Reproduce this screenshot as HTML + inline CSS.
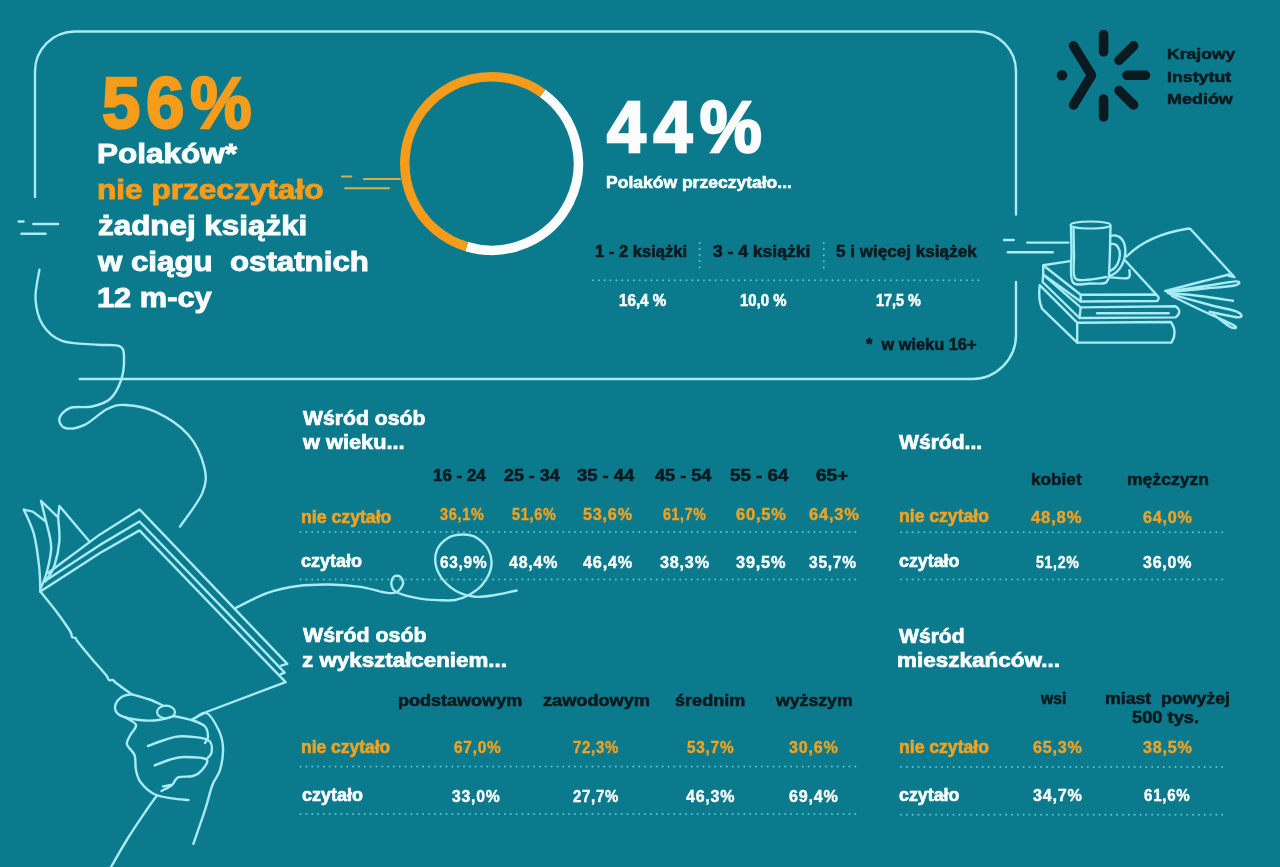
<!DOCTYPE html>
<html><head><meta charset="utf-8"><style>
html,body{margin:0;padding:0;}
body{width:1280px;height:867px;background:#0c7a8d;position:relative;overflow:hidden;font-family:"Liberation Sans",sans-serif;}
.t{position:absolute;white-space:nowrap;font-weight:bold;line-height:1;transform-origin:0 0;}
svg{position:absolute;left:0;top:0;}
#wrap{position:absolute;left:0;top:0;width:1280px;height:867px;filter:blur(0.45px);}
</style></head><body>
<div id="wrap">
<svg width="1280" height="867" viewBox="0 0 1280 867"><path d="M35,197 L35,71.5 A40,40 0 0 1 75,31.5 L976,31.5 A40,40 0 0 1 1016,71.5 L1016,214.6" fill="none" stroke="#a8ebf4" stroke-width="2.4" stroke-linecap="round" stroke-linejoin="round" />
<path d="M1016,282 L1016,335 A44,44 0 0 1 972,379 L79.8,379" fill="none" stroke="#a8ebf4" stroke-width="2.4" stroke-linecap="round" stroke-linejoin="round" />
<path d="M18.7,221.5 L23.5,221.5" fill="none" stroke="#a8ebf4" stroke-width="2.4" stroke-linecap="round" stroke-linejoin="round" />
<path d="M33.2,224 L58.1,224" fill="none" stroke="#a8ebf4" stroke-width="2.4" stroke-linecap="round" stroke-linejoin="round" />
<path d="M21.4,233.7 L45.6,233.7" fill="none" stroke="#a8ebf4" stroke-width="2.4" stroke-linecap="round" stroke-linejoin="round" />
<path d="M1004,240 L1013.7,240" fill="none" stroke="#a8ebf4" stroke-width="2.4" stroke-linecap="round" stroke-linejoin="round" />
<path d="M1027.3,242.6 L1068.4,242.6" fill="none" stroke="#a8ebf4" stroke-width="2.4" stroke-linecap="round" stroke-linejoin="round" />
<path d="M1007.8,252.2 L1052.7,252.2" fill="none" stroke="#a8ebf4" stroke-width="2.4" stroke-linecap="round" stroke-linejoin="round" />
<path d="M39.4,269.7 C38.8,274.6 35.0,289.6 35.5,298.8 C36.0,308.0 38.2,317.6 42.6,324.6 C47.0,331.6 52.9,337.5 62.0,340.8 C71.2,344.1 87.8,343.8 97.5,344.7 C107.2,345.6 115.8,343.9 120.2,346.5 C124.6,349.1 123.9,354.2 124.0,360.0 C124.1,365.8 123.1,374.5 120.8,381.0 C118.5,387.5 114.8,394.8 110.0,399.0 C105.2,403.2 98.7,405.0 92.0,406.5 C85.3,408.0 75.4,406.0 70.0,408.0 C64.6,410.0 60.2,415.0 59.4,418.3 C58.6,421.6 61.0,426.9 65.2,428.0 C69.4,429.1 77.6,428.0 84.6,424.8 C91.6,421.6 100.5,412.3 107.2,409.0 C113.9,405.7 116.9,404.5 125.0,405.0 C133.1,405.5 145.2,407.0 155.7,411.9 C166.2,416.8 179.9,425.4 188.0,434.5 C196.1,443.6 201.8,457.1 204.2,466.8 C206.6,476.5 206.5,482.6 202.5,492.6 C198.5,502.6 183.8,520.9 180.0,526.6" fill="none" stroke="#a8ebf4" stroke-width="2.4" stroke-linecap="round" stroke-linejoin="round" />
<path d="M235.6,608.0 C240.8,605.5 256.5,596.8 266.9,593.1 C277.3,589.4 287.6,587.4 298.0,586.0 C308.4,584.6 319.0,584.4 329.4,584.5 C339.8,584.6 351.5,585.6 360.6,586.9 C369.7,588.2 378.1,591.4 384.0,592.3 C389.9,593.2 392.8,593.9 396.0,592.5 C399.2,591.1 402.3,586.7 403.0,584.0 C403.7,581.3 401.6,577.7 400.0,576.5 C398.4,575.3 394.9,575.6 393.5,577.0 C392.1,578.4 390.9,582.4 391.5,585.0 C392.1,587.6 392.2,590.2 397.0,592.5 C401.8,594.8 412.8,597.3 420.0,598.6 C427.2,599.9 434.2,600.0 440.0,600.2 C445.8,600.4 450.3,600.8 455.0,600.0 C459.7,599.2 463.5,598.0 468.0,595.5 C472.5,593.0 478.2,589.6 482.0,585.0 C485.8,580.4 489.8,573.7 491.0,568.0 C492.2,562.3 491.3,556.0 489.0,551.0 C486.7,546.0 481.3,540.8 477.0,538.0 C472.7,535.2 467.8,534.5 463.0,534.5 C458.2,534.5 452.3,535.4 448.0,538.0 C443.7,540.6 439.0,545.3 437.0,550.0 C435.0,554.7 434.8,560.8 436.0,566.0 C437.2,571.2 440.3,576.7 444.0,581.0 C447.7,585.3 452.8,589.4 458.0,592.0 C463.2,594.6 468.8,596.3 475.0,596.8 C481.2,597.3 488.1,596.0 495.0,595.0 C501.9,594.0 513.0,591.2 516.6,590.5" fill="none" stroke="#a8ebf4" stroke-width="2.4" stroke-linecap="round" stroke-linejoin="round" />
<path d="M542.62,93.28 A86.8,86.8 0 0 1 466.66,246.64" fill="none" stroke="#fbfdfc" stroke-width="9.5"/>
<path d="M466.66,246.64 A86.8,86.8 0 1 1 542.62,93.28" fill="none" stroke="#f59c1a" stroke-width="9.5"/>
<path d="M342,176.6 L351.4,176.6" fill="none" stroke="#d4b04e" stroke-width="2" stroke-linecap="round" stroke-linejoin="round" />
<path d="M364,178.9 L400,178.9" fill="none" stroke="#d4b04e" stroke-width="2" stroke-linecap="round" stroke-linejoin="round" />
<path d="M345,188.3 L389,188.3" fill="none" stroke="#d4b04e" stroke-width="2" stroke-linecap="round" stroke-linejoin="round" />
<g stroke="#0b1a20" stroke-width="9.5" stroke-linecap="round" fill="none"><path d="M1073.5,45.8 L1091.6,75.3 L1073.5,105" stroke-linejoin="round"/><path d="M1103.6,34.5 L1103.6,52"/><path d="M1103.6,99 L1103.6,117"/><path d="M1119,60.4 L1133.7,45.8"/><path d="M1127,75.3 L1145.5,75.3"/><path d="M1119,90.5 L1133.7,105"/></g><circle cx="1062" cy="75.3" r="5.3" fill="#0b1a20"/>
<line x1="593" y1="280.2" x2="980" y2="280.2" stroke="#5cc3d2" stroke-width="2" stroke-dasharray="0.01 5.83" stroke-linecap="round"/>
<line x1="699.7" y1="243" x2="699.7" y2="268" stroke="#5cc3d2" stroke-width="2" stroke-dasharray="0.01 6.1" stroke-linecap="round"/>
<line x1="823.8" y1="243" x2="823.8" y2="268" stroke="#5cc3d2" stroke-width="2" stroke-dasharray="0.01 6.1" stroke-linecap="round"/>
<line x1="300.5" y1="532" x2="858" y2="532" stroke="#5cc3d2" stroke-width="2" stroke-dasharray="0.01 5.83" stroke-linecap="round"/>
<line x1="300.5" y1="579.5" x2="858" y2="579.5" stroke="#5cc3d2" stroke-width="2" stroke-dasharray="0.01 5.83" stroke-linecap="round"/>
<line x1="901" y1="532.3" x2="1227" y2="532.3" stroke="#5cc3d2" stroke-width="2" stroke-dasharray="0.01 5.83" stroke-linecap="round"/>
<line x1="901" y1="579.6" x2="1227" y2="579.6" stroke="#5cc3d2" stroke-width="2" stroke-dasharray="0.01 5.83" stroke-linecap="round"/>
<line x1="300.5" y1="766.5" x2="858" y2="766.5" stroke="#5cc3d2" stroke-width="2" stroke-dasharray="0.01 5.83" stroke-linecap="round"/>
<line x1="300.5" y1="814" x2="858" y2="814" stroke="#5cc3d2" stroke-width="2" stroke-dasharray="0.01 5.83" stroke-linecap="round"/>
<line x1="901" y1="766.9" x2="1227" y2="766.9" stroke="#5cc3d2" stroke-width="2" stroke-dasharray="0.01 5.83" stroke-linecap="round"/>
<line x1="901" y1="814.7" x2="1227" y2="814.7" stroke="#5cc3d2" stroke-width="2" stroke-dasharray="0.01 5.83" stroke-linecap="round"/>
<path d="M40.4,591.5 L100.0,553.0 L139.5,530.4 L285.6,682.1 L207.7,711.5 L192.1,719.3" fill="none" stroke="#a8ebf4" stroke-width="2.4" stroke-linecap="round" stroke-linejoin="round" />
<path d="M44.2,581.4 L100.0,544.9 L139.5,521.5 L284.7,672.6 L280.4,674.3" fill="none" stroke="#a8ebf4" stroke-width="2.4" stroke-linecap="round" stroke-linejoin="round" />
<path d="M48.0,573.0 L100.0,534.4 L139.5,509.4 L287.3,663.9 L281.2,665.7" fill="none" stroke="#a8ebf4" stroke-width="2.4" stroke-linecap="round" stroke-linejoin="round" />
<path d="M40.4,591.5 C43.0,594.8 51.1,604.4 56.0,611.0 C60.9,617.6 67.3,626.7 70.0,631.0 C72.7,635.3 71.1,635.8 72.0,637.0 C72.9,638.2 74.5,637.2 75.5,638.0 C76.5,638.8 75.2,638.5 78.0,642.0 C80.8,645.5 87.3,653.5 92.0,659.0 C96.7,664.5 103.2,671.5 106.0,675.0 C108.8,678.5 107.8,679.2 109.0,680.0 C110.2,680.8 111.8,679.5 113.0,680.0 C114.2,680.5 112.9,680.6 116.0,683.0 C119.1,685.4 128.9,692.3 131.5,694.2" fill="none" stroke="#a8ebf4" stroke-width="2.4" stroke-linecap="round" stroke-linejoin="round" />
<path d="M40.4,591.5 C40.2,587.3 40.2,575.6 39.1,566.1 C38.0,556.6 36.5,543.8 34.0,534.4 C31.5,525.0 25.6,513.8 23.9,509.7" fill="none" stroke="#a8ebf4" stroke-width="2.4" stroke-linecap="round" stroke-linejoin="round" />
<path d="M23.9,509.7 L32.8,511.6 L46.1,521.7 L41.0,500.8 L58.1,517.3 L59.4,505.9 L89.9,542.0" fill="none" stroke="#a8ebf4" stroke-width="2.4" stroke-linecap="round" stroke-linejoin="round" />
<path d="M46.1,521.7 C47.0,525.9 51.1,538.5 51.2,547.0 C51.3,555.5 48.5,565.5 46.7,572.5 C44.9,579.5 41.5,586.2 40.4,589.0" fill="none" stroke="#a8ebf4" stroke-width="2.4" stroke-linecap="round" stroke-linejoin="round" />
<path d="M58.1,517.3 C58.3,521.2 60.0,532.7 59.4,540.8 C58.8,548.9 56.6,559.2 54.3,566.0 C52.0,572.8 47.0,578.8 45.5,581.4" fill="none" stroke="#a8ebf4" stroke-width="2.4" stroke-linecap="round" stroke-linejoin="round" />
<path d="M131.5,694.2 C130.0,694.6 125.1,694.9 122.5,696.5 C119.9,698.1 116.7,701.4 115.7,704.0 C114.7,706.6 114.9,710.0 116.5,712.2 C118.1,714.5 120.8,716.1 125.5,717.5 C130.2,718.9 139.2,720.1 145.0,720.5 C150.8,720.9 155.1,720.5 160.0,719.7 C164.9,719.0 171.8,716.6 174.2,716.0" fill="none" stroke="#a8ebf4" stroke-width="2.4" stroke-linecap="round" stroke-linejoin="round" />
<path d="M131.5,694.2 C134.5,695.1 144.2,697.6 149.5,699.5 C154.8,701.4 160.8,704.5 163.0,705.5" fill="none" stroke="#a8ebf4" stroke-width="2.4" stroke-linecap="round" stroke-linejoin="round" />
<ellipse cx="166" cy="712" rx="9" ry="6.3" fill="none" stroke="#a8ebf4" stroke-width="2.2"/>
<path d="M174.2,716.0 C177.3,716.8 187.9,718.8 193.0,720.5 C198.1,722.2 202.5,723.8 205.0,726.5 C207.5,729.2 208.0,734.2 208.0,737.0 C208.0,739.8 205.5,742.0 205.0,743.0" fill="none" stroke="#a8ebf4" stroke-width="2.4" stroke-linecap="round" stroke-linejoin="round" />
<path d="M125.5,717.5 C127.2,718.8 135.2,722.0 136.0,725.0 C136.8,728.0 131.5,732.2 130.0,735.5 C128.5,738.8 126.2,741.2 127.0,744.5 C127.8,747.8 133.0,750.8 134.5,755.0 C136.0,759.2 135.0,765.5 136.0,770.0 C137.0,774.5 137.5,778.0 140.5,782.0 C143.5,786.0 148.8,791.3 154.0,794.0 C159.2,796.7 166.3,797.4 172.0,798.4 C177.7,799.4 185.7,799.7 188.4,800.0" fill="none" stroke="#a8ebf4" stroke-width="2.4" stroke-linecap="round" stroke-linejoin="round" />
<path d="M148.0,746.0 C150.8,745.0 159.0,741.6 164.5,740.0 C170.0,738.4 173.8,736.2 181.0,736.2 C188.2,736.2 202.9,737.4 208.0,740.0 C213.1,742.6 212.0,748.8 211.7,752.0 C211.4,755.2 207.3,758.2 206.4,759.4" fill="none" stroke="#a8ebf4" stroke-width="2.4" stroke-linecap="round" stroke-linejoin="round" />
<path d="M154.7,765.4 C157.3,764.4 165.6,760.9 170.5,759.5 C175.4,758.1 178.0,757.0 184.0,757.0 C190.0,757.0 203.4,757.2 206.4,759.4 C209.4,761.6 204.2,767.2 202.0,770.0 C199.8,772.8 197.0,774.8 193.0,776.0 C189.0,777.2 181.5,775.9 178.0,777.4 C174.5,778.9 174.8,782.7 172.0,785.0 C169.2,787.3 163.2,790.0 161.5,791.0" fill="none" stroke="#a8ebf4" stroke-width="2.4" stroke-linecap="round" stroke-linejoin="round" />
<path d="M163.0,786.4 C164.2,786.2 169.2,785.2 170.5,785.0" fill="none" stroke="#a8ebf4" stroke-width="2.4" stroke-linecap="round" stroke-linejoin="round" />
<path d="M157.0,795.4 C155.2,797.8 151.3,802.9 146.5,810.0 C141.7,817.1 133.9,828.5 128.0,838.0 C122.1,847.5 113.8,862.2 111.0,867.0" fill="none" stroke="#a8ebf4" stroke-width="2.4" stroke-linecap="round" stroke-linejoin="round" />
<path d="M193.0,719.7 C195.2,718.6 202.2,711.4 206.4,713.0 C210.6,714.6 215.6,723.8 218.4,729.5 C221.2,735.2 222.7,740.8 223.0,747.5 C223.3,754.2 221.8,763.8 220.0,770.0 C218.2,776.2 214.9,778.3 212.4,785.0 C209.9,791.7 208.2,800.2 205.0,810.0 C201.8,819.8 195.3,838.2 193.4,843.8" fill="none" stroke="#a8ebf4" stroke-width="2.4" stroke-linecap="round" stroke-linejoin="round" />
<ellipse cx="1090.5" cy="225" rx="20" ry="3.6" fill="none" stroke="#a8ebf4" stroke-width="2"/>
<path d="M1071.0,226.0 C1071.1,230.0 1071.2,240.7 1071.5,250.0 C1071.8,259.3 1069.4,276.0 1072.5,281.6 C1075.6,287.2 1084.5,283.3 1090.0,283.5 C1095.5,283.7 1102.1,284.1 1105.3,282.8 C1108.5,281.6 1108.4,277.1 1109.0,276.0" fill="none" stroke="#a8ebf4" stroke-width="2.4" stroke-linecap="round" stroke-linejoin="round" />
<path d="M1110.5,226.0 C1110.4,230.0 1110.2,241.7 1110.0,250.0 C1109.8,258.3 1109.2,271.7 1109.0,276.0" fill="none" stroke="#a8ebf4" stroke-width="2.4" stroke-linecap="round" stroke-linejoin="round" />
<path d="M1073.5,229.0 C1073.6,233.3 1073.8,246.8 1074.0,255.0 C1074.2,263.2 1072.3,273.9 1075.0,278.0 C1077.7,282.1 1084.8,279.7 1090.0,279.5 C1095.2,279.3 1103.3,277.4 1106.0,277.0" fill="none" stroke="#a8ebf4" stroke-width="2.4" stroke-linecap="round" stroke-linejoin="round" />
<path d="M1110,236 C1130,230 1131,268 1110,276" fill="none" stroke="#a8ebf4" stroke-width="2.4" stroke-linecap="round" stroke-linejoin="round" />
<path d="M1111,244 C1123,242 1123,266 1110,271" fill="none" stroke="#a8ebf4" stroke-width="2.4" stroke-linecap="round" stroke-linejoin="round" />
<path d="M1110.0,277.2 C1113.0,277.3 1124.8,279.1 1128.0,278.0 C1131.2,276.9 1129.2,271.6 1129.4,270.3" fill="none" stroke="#a8ebf4" stroke-width="2.4" stroke-linecap="round" stroke-linejoin="round" />
<path d="M1070.2,261.1 L1043.2,265.2 L1080.7,294.8 L1155.7,294.5 Q1161,297.8 1157,301 L1080.7,301.5 L1043.2,274.6 L1043.2,265.2" fill="none" stroke="#a8ebf4" stroke-width="2.4" stroke-linecap="round" stroke-linejoin="round" />
<path d="M1080.7,294.8 L1080.7,301.5" fill="none" stroke="#a8ebf4" stroke-width="2.4" stroke-linecap="round" stroke-linejoin="round" />
<path d="M1125.2,260.5 L1157,295.2" fill="none" stroke="#a8ebf4" stroke-width="2.4" stroke-linecap="round" stroke-linejoin="round" />
<path d="M1043.2,274.6 L1080.7,307.4 L1175.6,306.3 Q1183,311.8 1175.6,317.4 L1079.5,318 L1042.6,282 L1043.2,274.6" fill="none" stroke="#a8ebf4" stroke-width="2.4" stroke-linecap="round" stroke-linejoin="round" />
<path d="M1097.1,313.3 L1168.6,313.3" fill="none" stroke="#a8ebf4" stroke-width="2.4" stroke-linecap="round" stroke-linejoin="round" />
<path d="M1080.7,307.4 L1079.5,318" fill="none" stroke="#a8ebf4" stroke-width="2.4" stroke-linecap="round" stroke-linejoin="round" />
<path d="M1039.7,285.2 L1077.2,322.7 L1171,322 Q1178,332.3 1171.5,342.6 L1077.2,342.6 L1042,308.6 Q1038,300 1039.7,285.2" fill="none" stroke="#a8ebf4" stroke-width="2.4" stroke-linecap="round" stroke-linejoin="round" />
<path d="M1077.2,322.7 L1077.2,342.6" fill="none" stroke="#a8ebf4" stroke-width="2.4" stroke-linecap="round" stroke-linejoin="round" />
<path d="M1126.6,256.5 Q1148,235 1187.5,228.8" fill="none" stroke="#a8ebf4" stroke-width="2.4" stroke-linecap="round" stroke-linejoin="round" />
<path d="M1187.5,228.8 L1190.2,228.8 L1234.5,277.2 L1229.0,275.9" fill="none" stroke="#a8ebf4" stroke-width="2.4" stroke-linecap="round" stroke-linejoin="round" />
<path d="M1165.3,291.0 C1171.1,289.5 1189.4,284.8 1200.0,282.0 C1210.6,279.2 1224.2,275.8 1229.0,274.5" fill="none" stroke="#a8ebf4" stroke-width="2.4" stroke-linecap="round" stroke-linejoin="round" />
<path d="M1167.0,291.5 C1173.3,290.6 1193.5,287.7 1205.0,286.0 C1216.5,284.3 1231.0,281.5 1235.9,281.4 C1240.8,281.3 1240.5,284.2 1234.5,285.5 C1228.5,286.8 1210.8,287.9 1200.0,289.0 C1189.2,290.1 1174.6,291.3 1169.5,291.8" fill="none" stroke="#a8ebf4" stroke-width="2.4" stroke-linecap="round" stroke-linejoin="round" />
<path d="M1168.0,293.0 C1173.3,293.5 1189.2,294.7 1200.0,296.0 C1210.8,297.3 1227.5,300.0 1233.0,300.8" fill="none" stroke="#a8ebf4" stroke-width="2.4" stroke-linecap="round" stroke-linejoin="round" />
<path d="M1170.0,294.0 C1176.7,295.8 1198.8,302.0 1210.0,305.0 C1221.2,308.0 1232.5,309.7 1237.3,311.8 C1242.1,313.9 1243.2,317.4 1238.6,317.4 C1234.0,317.4 1214.4,312.7 1209.6,311.8" fill="none" stroke="#a8ebf4" stroke-width="2.4" stroke-linecap="round" stroke-linejoin="round" />
<path d="M1172.0,296.0 C1177.5,298.7 1194.6,307.1 1205.0,312.0 C1215.4,316.9 1230.3,323.2 1234.5,325.7 C1238.7,328.2 1233.8,328.9 1230.3,327.0 C1226.8,325.1 1216.5,316.7 1213.7,314.6" fill="none" stroke="#a8ebf4" stroke-width="2.4" stroke-linecap="round" stroke-linejoin="round" /></svg>
<div class="t" id="t0" style="left:102.49px;top:66.55px;font-size:72px;color:#f59c1a;transform:scaleX(0.9572);-webkit-text-stroke:2.52px #f59c1a;letter-spacing:6px">56%</div>
<div class="t" id="t1" style="left:96.69px;top:141.44px;font-size:27px;color:#fbfdfc;transform:scaleX(1.1668);-webkit-text-stroke:0.95px #fbfdfc;letter-spacing:0px">Polaków*</div>
<div class="t" id="t2" style="left:96.69px;top:177.44px;font-size:27px;color:#f59c1a;transform:scaleX(1.1699);-webkit-text-stroke:0.95px #f59c1a;letter-spacing:0px">nie przeczytało</div>
<div class="t" id="t3" style="left:97.85px;top:213.44px;font-size:27px;color:#fbfdfc;transform:scaleX(1.1622);-webkit-text-stroke:0.95px #fbfdfc;letter-spacing:0px">żadnej książki</div>
<div class="t" id="t4" style="left:98.02px;top:249.44px;font-size:27px;color:#fbfdfc;transform:scaleX(1.1573);-webkit-text-stroke:0.95px #fbfdfc;letter-spacing:0px">w ciągu&nbsp; ostatnich</div>
<div class="t" id="t5" style="left:96.72px;top:285.44px;font-size:27px;color:#fbfdfc;transform:scaleX(1.1401);-webkit-text-stroke:0.95px #fbfdfc;letter-spacing:0px">12 m-cy</div>
<div class="t" id="t6" style="left:607.30px;top:89.71px;font-size:73px;color:#fbfdfc;transform:scaleX(0.9553);-webkit-text-stroke:2.56px #fbfdfc;letter-spacing:8px">44%</div>
<div class="t" id="t7" style="left:605.94px;top:174.41px;font-size:17px;color:#fbfdfc;transform:scaleX(1.0303);-webkit-text-stroke:0.60px #fbfdfc;letter-spacing:0px">Polaków przeczytało...</div>
<div class="t" id="t8" style="left:595.00px;top:244.26px;font-size:16px;color:#0a1a1e;transform:scaleX(1.0366);-webkit-text-stroke:0.56px #0a1a1e;letter-spacing:0px">1 - 2 książki</div>
<div class="t" id="t9" style="left:712.53px;top:244.26px;font-size:16px;color:#0a1a1e;transform:scaleX(1.0933);-webkit-text-stroke:0.56px #0a1a1e;letter-spacing:0px">3 - 4 książki</div>
<div class="t" id="t10" style="left:836.04px;top:244.26px;font-size:16px;color:#0a1a1e;transform:scaleX(1.0688);-webkit-text-stroke:0.56px #0a1a1e;letter-spacing:0px">5 i więcej książek</div>
<div class="t" id="t11" style="left:619.04px;top:292.66px;font-size:16px;color:#fbfdfc;transform:scaleX(0.9491);-webkit-text-stroke:0.56px #fbfdfc;letter-spacing:0px">16,4 %</div>
<div class="t" id="t12" style="left:740.05px;top:292.66px;font-size:16px;color:#fbfdfc;transform:scaleX(0.9322);-webkit-text-stroke:0.56px #fbfdfc;letter-spacing:0px">10,0 %</div>
<div class="t" id="t13" style="left:876.04px;top:292.66px;font-size:16px;color:#fbfdfc;transform:scaleX(0.9000);-webkit-text-stroke:0.56px #fbfdfc;letter-spacing:0px">17,5 %</div>
<div class="t" id="t14" style="left:866.03px;top:337.26px;font-size:16px;color:#0a1a1e;transform:scaleX(1.0225);-webkit-text-stroke:0.56px #0a1a1e;letter-spacing:0px">*&nbsp; w wieku 16+</div>
<div class="t" id="t15" style="left:1167.45px;top:45.88px;font-size:15.5px;color:#0a1a1e;transform:scaleX(1.1330);-webkit-text-stroke:0.54px #0a1a1e;letter-spacing:0px">Krajowy</div>
<div class="t" id="t16" style="left:1167.43px;top:68.88px;font-size:15.5px;color:#0a1a1e;transform:scaleX(1.1465);-webkit-text-stroke:0.54px #0a1a1e;letter-spacing:0px">Instytut</div>
<div class="t" id="t17" style="left:1167.47px;top:91.48px;font-size:15.5px;color:#0a1a1e;transform:scaleX(1.1578);-webkit-text-stroke:0.54px #0a1a1e;letter-spacing:0px">Mediów</div>
<div class="t" id="t18" style="left:302.83px;top:407.67px;font-size:20px;color:#fbfdfc;transform:scaleX(1.0589);-webkit-text-stroke:0.70px #fbfdfc;letter-spacing:0px">Wśród osób</div>
<div class="t" id="t19" style="left:302.87px;top:432.27px;font-size:20px;color:#fbfdfc;transform:scaleX(1.0883);-webkit-text-stroke:0.70px #fbfdfc;letter-spacing:0px">w wieku...</div>
<div class="t" id="t20" style="left:432.97px;top:468.46px;font-size:16px;color:#0a1a1e;transform:scaleX(1.0581);-webkit-text-stroke:0.56px #0a1a1e;letter-spacing:0px">16 - 24</div>
<div class="t" id="t21" style="left:503.58px;top:468.46px;font-size:16px;color:#0a1a1e;transform:scaleX(1.1164);-webkit-text-stroke:0.56px #0a1a1e;letter-spacing:0px">25 - 34</div>
<div class="t" id="t22" style="left:577.05px;top:468.46px;font-size:16px;color:#0a1a1e;transform:scaleX(1.1504);-webkit-text-stroke:0.56px #0a1a1e;letter-spacing:0px">35 - 44</div>
<div class="t" id="t23" style="left:655.20px;top:468.46px;font-size:16px;color:#0a1a1e;transform:scaleX(1.1314);-webkit-text-stroke:0.56px #0a1a1e;letter-spacing:0px">45 - 54</div>
<div class="t" id="t24" style="left:730.05px;top:468.46px;font-size:16px;color:#0a1a1e;transform:scaleX(1.1707);-webkit-text-stroke:0.56px #0a1a1e;letter-spacing:0px">55 - 64</div>
<div class="t" id="t25" style="left:816.05px;top:468.46px;font-size:16px;color:#0a1a1e;transform:scaleX(1.1873);-webkit-text-stroke:0.56px #0a1a1e;letter-spacing:0px">65+</div>
<div class="t" id="t26" style="left:301.38px;top:506.92px;font-size:19px;color:#eea324;transform:scaleX(0.9305);-webkit-text-stroke:0.67px #eea324;letter-spacing:0px">nie czytało</div>
<div class="t" id="t27" style="left:439.52px;top:505.53px;font-size:16.5px;color:#eea324;transform:scaleX(0.8776);-webkit-text-stroke:0.41px #eea324;letter-spacing:0.8px">36,1%</div>
<div class="t" id="t28" style="left:511.52px;top:505.53px;font-size:16.5px;color:#eea324;transform:scaleX(0.8776);-webkit-text-stroke:0.41px #eea324;letter-spacing:0.8px">51,6%</div>
<div class="t" id="t29" style="left:582.98px;top:505.53px;font-size:16.5px;color:#eea324;transform:scaleX(0.9815);-webkit-text-stroke:0.41px #eea324;letter-spacing:0.8px">53,6%</div>
<div class="t" id="t30" style="left:662.53px;top:505.53px;font-size:16.5px;color:#eea324;transform:scaleX(0.8568);-webkit-text-stroke:0.41px #eea324;letter-spacing:0.8px">61,7%</div>
<div class="t" id="t31" style="left:735.98px;top:505.53px;font-size:16.5px;color:#eea324;transform:scaleX(1.0012);-webkit-text-stroke:0.41px #eea324;letter-spacing:0.8px">60,5%</div>
<div class="t" id="t32" style="left:809.21px;top:505.53px;font-size:16.5px;color:#eea324;transform:scaleX(1.0012);-webkit-text-stroke:0.41px #eea324;letter-spacing:0.8px">64,3%</div>
<div class="t" id="t33" style="left:301.38px;top:550.92px;font-size:19px;color:#fbfdfc;transform:scaleX(0.9470);-webkit-text-stroke:0.67px #fbfdfc;letter-spacing:0px">czytało</div>
<div class="t" id="t34" style="left:439.98px;top:553.53px;font-size:16.5px;color:#fbfdfc;transform:scaleX(0.9314);-webkit-text-stroke:0.41px #fbfdfc;letter-spacing:0.8px">63,9%</div>
<div class="t" id="t35" style="left:508.91px;top:553.53px;font-size:16.5px;color:#fbfdfc;transform:scaleX(0.9678);-webkit-text-stroke:0.41px #fbfdfc;letter-spacing:0.8px">48,4%</div>
<div class="t" id="t36" style="left:582.91px;top:553.53px;font-size:16.5px;color:#fbfdfc;transform:scaleX(0.9850);-webkit-text-stroke:0.41px #fbfdfc;letter-spacing:0.8px">46,4%</div>
<div class="t" id="t37" style="left:659.98px;top:553.53px;font-size:16.5px;color:#fbfdfc;transform:scaleX(0.9815);-webkit-text-stroke:0.41px #fbfdfc;letter-spacing:0.8px">38,3%</div>
<div class="t" id="t38" style="left:735.98px;top:553.53px;font-size:16.5px;color:#fbfdfc;transform:scaleX(0.9913);-webkit-text-stroke:0.41px #fbfdfc;letter-spacing:0.8px">39,5%</div>
<div class="t" id="t39" style="left:809.46px;top:553.53px;font-size:16.5px;color:#fbfdfc;transform:scaleX(0.9400);-webkit-text-stroke:0.41px #fbfdfc;letter-spacing:0.8px">35,7%</div>
<div class="t" id="t40" style="left:899.28px;top:432.47px;font-size:20px;color:#fbfdfc;transform:scaleX(1.0546);-webkit-text-stroke:0.70px #fbfdfc;letter-spacing:0px">Wśród...</div>
<div class="t" id="t41" style="left:1031.40px;top:472.46px;font-size:16px;color:#0a1a1e;transform:scaleX(1.0754);-webkit-text-stroke:0.56px #0a1a1e;letter-spacing:0px">kobiet</div>
<div class="t" id="t42" style="left:1127.48px;top:472.46px;font-size:16px;color:#0a1a1e;transform:scaleX(1.0965);-webkit-text-stroke:0.56px #0a1a1e;letter-spacing:0px">mężczyzn</div>
<div class="t" id="t43" style="left:898.92px;top:506.42px;font-size:19px;color:#eea324;transform:scaleX(0.9254);-webkit-text-stroke:0.67px #eea324;letter-spacing:0px">nie czytało</div>
<div class="t" id="t44" style="left:1031.42px;top:508.53px;font-size:16.5px;color:#eea324;transform:scaleX(1.0102);-webkit-text-stroke:0.41px #eea324;letter-spacing:0.8px">48,8%</div>
<div class="t" id="t45" style="left:1142.98px;top:508.53px;font-size:16.5px;color:#eea324;transform:scaleX(0.9804);-webkit-text-stroke:0.41px #eea324;letter-spacing:0.8px">64,0%</div>
<div class="t" id="t46" style="left:898.87px;top:551.42px;font-size:19px;color:#fbfdfc;transform:scaleX(0.9378);-webkit-text-stroke:0.67px #fbfdfc;letter-spacing:0px">czytało</div>
<div class="t" id="t47" style="left:1035.98px;top:553.53px;font-size:16.5px;color:#fbfdfc;transform:scaleX(0.8570);-webkit-text-stroke:0.41px #fbfdfc;letter-spacing:0.8px">51,2%</div>
<div class="t" id="t48" style="left:1142.98px;top:553.53px;font-size:16.5px;color:#fbfdfc;transform:scaleX(0.9686);-webkit-text-stroke:0.41px #fbfdfc;letter-spacing:0.8px">36,0%</div>
<div class="t" id="t49" style="left:303.33px;top:625.37px;font-size:20px;color:#fbfdfc;transform:scaleX(1.0692);-webkit-text-stroke:0.70px #fbfdfc;letter-spacing:0px">Wśród osób</div>
<div class="t" id="t50" style="left:302.27px;top:650.07px;font-size:20px;color:#fbfdfc;transform:scaleX(1.1177);-webkit-text-stroke:0.70px #fbfdfc;letter-spacing:0px">z wykształceniem...</div>
<div class="t" id="t51" style="left:398.38px;top:693.06px;font-size:16px;color:#0a1a1e;transform:scaleX(1.1265);-webkit-text-stroke:0.56px #0a1a1e;letter-spacing:0px">podstawowym</div>
<div class="t" id="t52" style="left:543.05px;top:693.06px;font-size:16px;color:#0a1a1e;transform:scaleX(1.1357);-webkit-text-stroke:0.56px #0a1a1e;letter-spacing:0px">zawodowym</div>
<div class="t" id="t53" style="left:675.44px;top:693.06px;font-size:16px;color:#0a1a1e;transform:scaleX(1.1318);-webkit-text-stroke:0.56px #0a1a1e;letter-spacing:0px">średnim</div>
<div class="t" id="t54" style="left:775.58px;top:693.06px;font-size:16px;color:#0a1a1e;transform:scaleX(1.1049);-webkit-text-stroke:0.56px #0a1a1e;letter-spacing:0px">wyższym</div>
<div class="t" id="t55" style="left:301.45px;top:736.52px;font-size:19px;color:#eea324;transform:scaleX(0.9191);-webkit-text-stroke:0.67px #eea324;letter-spacing:0px">nie czytało</div>
<div class="t" id="t56" style="left:453.98px;top:739.03px;font-size:16.5px;color:#eea324;transform:scaleX(0.9357);-webkit-text-stroke:0.41px #eea324;letter-spacing:0.8px">67,0%</div>
<div class="t" id="t57" style="left:572.50px;top:739.03px;font-size:16.5px;color:#eea324;transform:scaleX(0.9069);-webkit-text-stroke:0.41px #eea324;letter-spacing:0.8px">72,3%</div>
<div class="t" id="t58" style="left:686.98px;top:739.03px;font-size:16.5px;color:#eea324;transform:scaleX(0.9314);-webkit-text-stroke:0.41px #eea324;letter-spacing:0.8px">53,7%</div>
<div class="t" id="t59" style="left:788.97px;top:739.03px;font-size:16.5px;color:#eea324;transform:scaleX(0.9777);-webkit-text-stroke:0.41px #eea324;letter-spacing:0.8px">30,6%</div>
<div class="t" id="t60" style="left:302.36px;top:784.92px;font-size:19px;color:#fbfdfc;transform:scaleX(0.9470);-webkit-text-stroke:0.67px #fbfdfc;letter-spacing:0px">czytało</div>
<div class="t" id="t61" style="left:451.96px;top:787.53px;font-size:16.5px;color:#fbfdfc;transform:scaleX(0.9528);-webkit-text-stroke:0.41px #fbfdfc;letter-spacing:0.8px">33,0%</div>
<div class="t" id="t62" style="left:572.94px;top:787.53px;font-size:16.5px;color:#fbfdfc;transform:scaleX(0.9075);-webkit-text-stroke:0.41px #fbfdfc;letter-spacing:0.8px">27,7%</div>
<div class="t" id="t63" style="left:685.90px;top:787.53px;font-size:16.5px;color:#fbfdfc;transform:scaleX(0.9696);-webkit-text-stroke:0.41px #fbfdfc;letter-spacing:0.8px">46,3%</div>
<div class="t" id="t64" style="left:788.97px;top:787.53px;font-size:16.5px;color:#fbfdfc;transform:scaleX(0.9777);-webkit-text-stroke:0.41px #fbfdfc;letter-spacing:0.8px">69,4%</div>
<div class="t" id="t65" style="left:899.29px;top:625.67px;font-size:20px;color:#fbfdfc;transform:scaleX(1.0551);-webkit-text-stroke:0.70px #fbfdfc;letter-spacing:0px">Wśród</div>
<div class="t" id="t66" style="left:897.19px;top:650.07px;font-size:20px;color:#fbfdfc;transform:scaleX(1.1246);-webkit-text-stroke:0.70px #fbfdfc;letter-spacing:0px">mieszkańców...</div>
<div class="t" id="t67" style="left:1041.48px;top:691.46px;font-size:16px;color:#0a1a1e;transform:scaleX(0.9799);-webkit-text-stroke:0.56px #0a1a1e;letter-spacing:0px">wsi</div>
<div class="t" id="t68" style="left:1104.93px;top:691.46px;font-size:16px;color:#0a1a1e;transform:scaleX(1.1065);-webkit-text-stroke:0.56px #0a1a1e;letter-spacing:0px">miast&nbsp; powyżej</div>
<div class="t" id="t69" style="left:1132.05px;top:709.76px;font-size:16px;color:#0a1a1e;transform:scaleX(1.1420);-webkit-text-stroke:0.56px #0a1a1e;letter-spacing:0px">500 tys.</div>
<div class="t" id="t70" style="left:898.92px;top:736.72px;font-size:19px;color:#eea324;transform:scaleX(0.9254);-webkit-text-stroke:0.67px #eea324;letter-spacing:0px">nie czytało</div>
<div class="t" id="t71" style="left:1032.98px;top:738.53px;font-size:16.5px;color:#eea324;transform:scaleX(0.9804);-webkit-text-stroke:0.41px #eea324;letter-spacing:0.8px">65,3%</div>
<div class="t" id="t72" style="left:1142.98px;top:738.53px;font-size:16.5px;color:#eea324;transform:scaleX(0.9804);-webkit-text-stroke:0.41px #eea324;letter-spacing:0.8px">38,5%</div>
<div class="t" id="t73" style="left:898.87px;top:784.52px;font-size:19px;color:#fbfdfc;transform:scaleX(0.9378);-webkit-text-stroke:0.67px #fbfdfc;letter-spacing:0px">czytało</div>
<div class="t" id="t74" style="left:1032.98px;top:786.63px;font-size:16.5px;color:#fbfdfc;transform:scaleX(0.9804);-webkit-text-stroke:0.41px #fbfdfc;letter-spacing:0.8px">34,7%</div>
<div class="t" id="t75" style="left:1143.98px;top:786.63px;font-size:16.5px;color:#fbfdfc;transform:scaleX(0.9159);-webkit-text-stroke:0.41px #fbfdfc;letter-spacing:0.8px">61,6%</div>
</div>
</body></html>
